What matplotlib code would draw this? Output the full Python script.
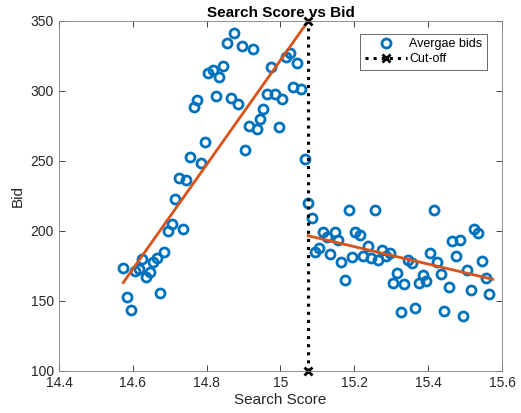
import numpy as np
import matplotlib
matplotlib.use("Agg")
import matplotlib.pyplot as plt

plt.rcParams["font.family"] = ["Liberation Sans", "DejaVu Sans"]

# average bids per search score
score = [
    14.875, 14.854, 14.895, 14.925, 15.026, 15.015, 15.045, 14.974, 14.845, 14.816,
    14.804, 14.834, 15.034, 15.055, 14.963, 14.985, 15.004, 14.824, 14.775, 14.766,
    14.866, 14.884, 14.953, 14.945, 14.915, 14.936, 14.996, 14.903, 14.795, 14.754,
    14.785, 15.066, 14.725, 14.744, 14.715, 14.705, 14.694, 14.735, 14.685, 14.666,
    14.654, 14.624, 14.574, 14.606, 14.617, 14.647, 14.635, 14.674, 14.585, 14.594,
    15.075, 15.085, 15.114, 15.125, 15.147, 15.157, 15.094, 15.103, 15.135, 15.165,
    15.185, 15.176, 15.193, 15.203, 15.215, 15.224, 15.236, 15.245, 15.255, 15.264,
    15.275, 15.285, 15.297, 15.315, 15.306, 15.335, 15.326, 15.345, 15.355, 15.365,
    15.385, 15.375, 15.395, 15.405, 15.415, 15.424, 15.435, 15.444, 15.456, 15.465,
    15.486, 15.475, 15.494, 15.505, 15.515, 15.524, 15.536, 15.545, 15.556, 15.566,
]
bid = [
    341.2, 334.5, 332.1, 330.0, 327.4, 324.5, 320.2, 317.4, 317.9, 315.0,
    313.1, 310.2, 302.6, 301.2, 297.6, 297.9, 294.5, 296.2, 293.8, 288.4,
    295.0, 290.5, 286.9, 280.0, 274.8, 273.1, 274.5, 257.9, 263.4, 253.1,
    248.8, 251.6, 237.6, 236.4, 222.6, 205.2, 200.2, 201.2, 185.2, 180.5,
    178.1, 180.0, 173.6, 171.6, 172.6, 170.9, 166.9, 155.5, 153.1, 143.6,
    219.8, 209.5, 199.5, 195.9, 199.1, 193.6, 185.2, 187.6, 183.6, 178.1,
    215.0, 165.2, 181.2, 199.5, 196.9, 182.1, 189.5, 180.9, 215.0, 179.1,
    186.2, 182.1, 184.3, 170.0, 162.9, 161.9, 142.1, 179.3, 176.9, 145.2,
    168.4, 162.9, 164.3, 184.1, 214.8, 177.9, 169.1, 143.1, 159.8, 192.6,
    193.4, 182.1, 139.5, 171.9, 157.6, 201.2, 198.4, 178.6, 166.6, 155.0,
]

cutoff = 15.075
cut_y = [100, 350]

# fitted line endpoints on each side of the cut-off
fit_left_x = [14.574, 15.075]
fit_left_y = [163.1, 350.0]
fit_right_x = [15.075, 15.575]
fit_right_y = [196.6, 165.5]

blue = "#0072BD"
orange = "#D95319"
axcol = "#262626"

fig = plt.figure(figsize=(5.21, 4.13), dpi=100)
ax = fig.add_axes([0.1132, 0.1017, 0.8503, 0.8475])

ax.plot(score, bid, "o", mfc="none", mec=blue, mew=2.0, ms=6.5,
        linestyle="none", label="Avergae bids")
ax.plot(fit_left_x, fit_left_y, color=orange, lw=2)
ax.plot(fit_right_x, fit_right_y, color=orange, lw=2)
ax.plot([cutoff, cutoff], cut_y, color="black", ls=":", lw=2.2,
        marker="x", ms=6, mew=2, label="Cut-off", clip_on=False)

ax.set_xlim(14.4, 15.6)
ax.set_ylim(100, 350)
ax.set_xticks(np.arange(14.4, 15.61, 0.2))
ax.set_xticklabels(["14.4", "14.6", "14.8", "15", "15.2", "15.4", "15.6"])
ax.set_yticks(np.arange(100, 351, 50))

ax.tick_params(direction="in", top=True, right=True, length=4,
               width=0.6, color=axcol, labelsize=10, labelcolor=axcol)
for sp in ax.spines.values():
    sp.set_color("#808080")
    sp.set_linewidth(0.6)

ax.set_xlabel("Search Score", fontsize=11, color=axcol, labelpad=2)
ax.set_ylabel("Bid", fontsize=11, color=axcol, labelpad=4)
ax.set_title("Search Score vs Bid", fontsize=11, fontweight="bold", pad=3)

leg = ax.legend(loc="upper right", bbox_to_anchor=(0.971, 0.97),
                fontsize=9, frameon=True, fancybox=False, borderpad=0.35,
                numpoints=1, borderaxespad=0.2,
                handlelength=3.4, handletextpad=0.15, labelspacing=0.25)
leg.get_frame().set_edgecolor(axcol)
leg.get_frame().set_linewidth(0.6)

fig.savefig("out.png", dpi=100)
